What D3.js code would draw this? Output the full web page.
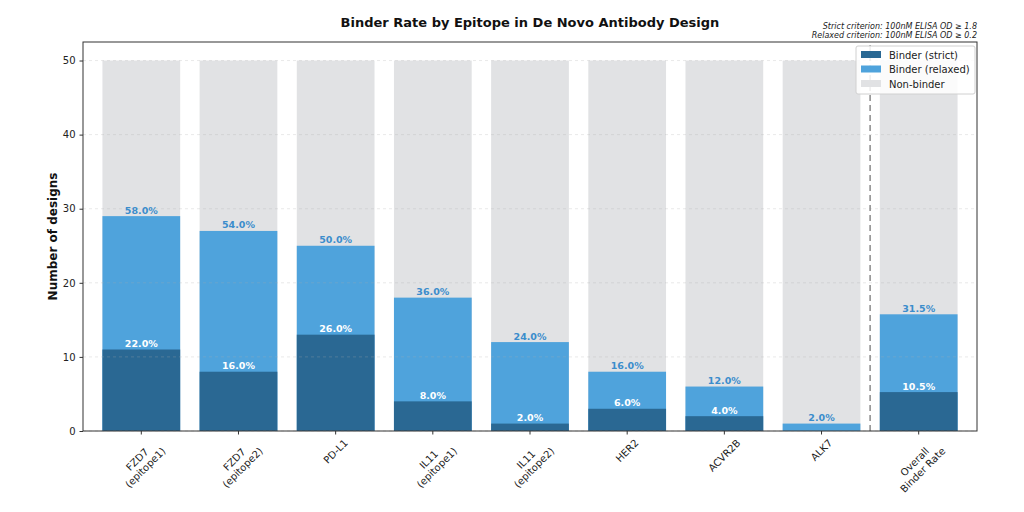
<!DOCTYPE html>
<html><head><meta charset="utf-8">
<script src="https://cdn.jsdelivr.net/npm/d3@7"></script>
<style>body{margin:0;background:#fff}svg{font-family:"DejaVu Sans",sans-serif}</style>
</head><body><svg id="c" width="1024" height="512"></svg>
<script>
const categories = ["FZD7\n(epitope1)","FZD7\n(epitope2)","PD-L1","IL11\n(epitope1)","IL11\n(epitope2)","HER2","ACVR2B","ALK7","Overall\nBinder Rate"];
const strictCounts = [11,8,13,4,1,3,2,0,5.25];
const relaxedCounts = [29,27,25,18,12,8,6,1,15.75];
const totals = [50,50,50,50,50,50,50,50,50];
const strictPct = ["22.0%","16.0%","26.0%","8.0%","2.0%","6.0%","4.0%","0.0%","10.5%"];
const relaxedPct = ["58.0%","54.0%","50.0%","36.0%","24.0%","16.0%","12.0%","2.0%","31.5%"];
const yTicks = [0,10,20,30,40,50];

const C_STRICT="#2a6893", C_REL="#4fa3dc", C_NON="#e1e2e4", C_RELTXT="#3b8dcc";
const svg=d3.select("#c");
const L=83,R=977,T=42,B=431;
const x=d3.scaleLinear().domain([-0.6,categories.length-0.4]).range([L,R]);
const y=d3.scaleLinear().domain([0,52.5]).range([B,T]);
const bw=(x(1)-x(0))*0.8;
const idx=d3.range(categories.length);

const g=svg.append("g");
g.selectAll(".non").data(idx).join("rect").attr("x",i=>x(i)-bw/2).attr("width",bw)
 .attr("y",i=>y(totals[i])).attr("height",i=>y(0)-y(totals[i])).attr("fill",C_NON);
g.selectAll(".rel").data(idx).join("rect").attr("x",i=>x(i)-bw/2).attr("width",bw)
 .attr("y",i=>y(relaxedCounts[i])).attr("height",i=>y(0)-y(relaxedCounts[i])).attr("fill",C_REL);
g.selectAll(".str").data(idx).join("rect").attr("x",i=>x(i)-bw/2).attr("width",bw)
 .attr("y",i=>y(strictCounts[i])).attr("height",i=>y(0)-y(strictCounts[i])).attr("fill",C_STRICT);

// grid
svg.append("g").selectAll("line").data(yTicks).join("line")
 .attr("x1",L).attr("x2",R).attr("y1",d=>y(d)).attr("y2",d=>y(d))
 .attr("stroke","#b0b0b0").attr("stroke-opacity",0.35).attr("stroke-dasharray","3,3").attr("stroke-width",0.8);

// separator
svg.append("line").attr("x1",x(7.5)).attr("x2",x(7.5)).attr("y1",B).attr("y2",T)
 .attr("stroke","#8a8a8a").attr("stroke-width",1.5).attr("stroke-dasharray","6,4");

// labels
svg.append("g").selectAll("text").data(idx).join("text")
 .attr("x",i=>x(i)).attr("y",i=>y(relaxedCounts[i])-2.5).attr("text-anchor","middle")
 .attr("font-size",9.5).attr("font-weight","bold").attr("fill",C_RELTXT).text(i=>relaxedPct[i]);
svg.append("g").selectAll("text").data(idx.filter(i=>strictCounts[i]>0)).join("text")
 .attr("x",i=>x(i)).attr("y",i=>y(strictCounts[i])-2.5).attr("text-anchor","middle")
 .attr("font-size",9.5).attr("font-weight","bold").attr("fill","#fff").text(i=>strictPct[i]);

// axes frame
svg.append("rect").attr("x",L).attr("y",T).attr("width",R-L).attr("height",B-T)
 .attr("fill","none").attr("stroke","#333").attr("stroke-width",1);

// y axis
const ya=svg.append("g").attr("transform",`translate(${L},0)`).call(d3.axisLeft(y).tickValues(yTicks).tickSize(3.5).tickPadding(4));
ya.select(".domain").remove();
ya.selectAll("text").attr("font-size",10).attr("font-family","DejaVu Sans").attr("fill","#222");
ya.selectAll("line").attr("stroke","#333");

// x ticks
svg.append("g").selectAll("line").data(idx).join("line").attr("x1",i=>x(i)).attr("x2",i=>x(i))
 .attr("y1",B).attr("y2",B+3.5).attr("stroke","#333");
const fs=10, lh=11.5;
idx.forEach(i=>{
  const lines=categories[i].split("\n");
  const grp=svg.append("g");
  const inner=grp.append("g");
  lines.forEach((t,k)=>{
    inner.append("text").attr("x",0).attr("y",(k-(lines.length-1)/2)*lh+fs*0.35)
      .attr("text-anchor","middle").attr("font-size",fs).attr("fill","#222").text(t);
  });
  const bb=inner.node().getBBox();
  const w=bb.width, h=lines.length*lh;
  const half=(w+h)*Math.SQRT1_2/2;
  grp.attr("transform",`translate(${x(i)},${B+6+half}) rotate(-45)`);
});

// y label
svg.append("text").attr("transform",`translate(57,${(T+B)/2}) rotate(-90)`).attr("text-anchor","middle")
 .attr("font-size",12).attr("font-weight","bold").attr("fill","#111").text("Number of designs");

// title
svg.append("text").attr("x",530).attr("y",27).attr("text-anchor","middle").attr("font-size",13)
 .attr("font-weight","bold").attr("fill","#111").text("Binder Rate by Epitope in De Novo Antibody Design");

// notes
svg.append("text").attr("x",977).attr("y",29).attr("text-anchor","end").attr("font-size",8)
 .attr("font-style","italic").attr("fill","#222").text("Strict criterion: 100nM ELISA OD \u2265 1.8");
svg.append("text").attr("x",977).attr("y",38).attr("text-anchor","end").attr("font-size",8)
 .attr("font-style","italic").attr("fill","#222").text("Relaxed criterion: 100nM ELISA OD \u2265 0.2");

// legend
const lg=svg.append("g").attr("transform","translate(856,46)");
lg.append("rect").attr("width",119).attr("height",48).attr("rx",2).attr("fill","#fff").attr("fill-opacity",0.85)
 .attr("stroke","#d0d0d0");
const legItems=[["Binder (strict)",C_STRICT],["Binder (relaxed)",C_REL],["Non-binder",C_NON]];
legItems.forEach((d,k)=>{
  lg.append("rect").attr("x",5).attr("y",5+k*14.5).attr("width",20).attr("height",7).attr("fill",d[1]);
  lg.append("text").attr("x",33).attr("y",12.5+k*14.5).attr("font-size",10).attr("fill","#222").text(d[0]);
});
</script></body></html>
